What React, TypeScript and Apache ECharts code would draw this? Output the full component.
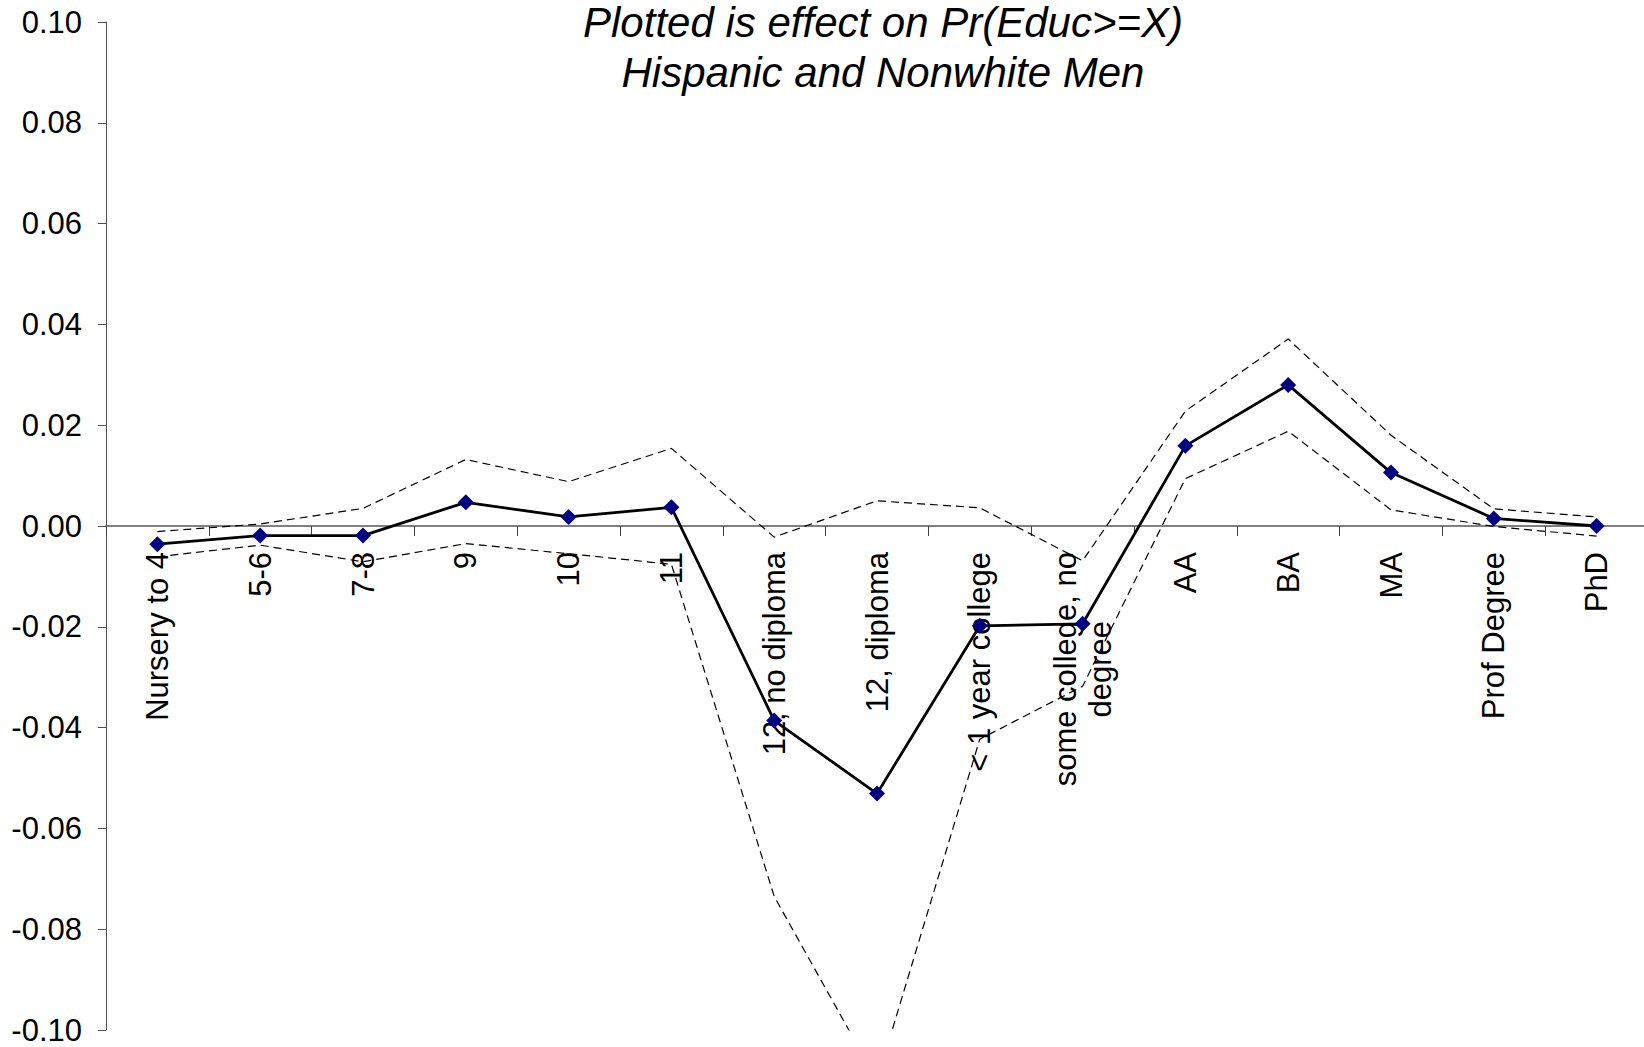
import React, { useEffect, useRef } from "react";
import * as echarts from "echarts";

const categories = [
  "Nursery to 4",
  "5-6",
  "7-8",
  "9",
  "10",
  "11",
  "12, no diploma",
  "12, diploma",
  "< 1 year college",
  "some college, no\ndegree",
  "AA",
  "BA",
  "MA",
  "Prof Degree",
  "PhD",
];

const effect = [-0.0036, -0.0019, -0.0019, 0.0047, 0.0018, 0.0037, -0.0386, -0.0531, -0.0198, -0.0194, 0.0159, 0.028, 0.0106, 0.0015, 0.0];
const upperBound = [-0.0011, 0.0004, 0.0035, 0.0132, 0.0088, 0.0154, -0.0022, 0.005, 0.0036, -0.0069, 0.0228, 0.0371, 0.018, 0.0034, 0.0018];
const lowerBound = [-0.0061, -0.0038, -0.0071, -0.0035, -0.0055, -0.0076, -0.0735, -0.11, -0.0423, -0.0318, 0.0094, 0.0188, 0.0032, -0.0001, -0.002];

const titleLines = ["Plotted is effect on Pr(Educ>=X)", "Hispanic and Nonwhite Men"];

const yMin = -0.1;
const yMax = 0.1;
const yStep = 0.02;

const FONT = "'Liberation Sans', Arial, sans-serif";

const W = 1644;
const H = 1047;
const GRID = { left: 106, right: -4, top: 22, bottom: 17 };

export default function App() {
  const ref = useRef<HTMLDivElement>(null);

  useEffect(() => {
    document.body.style.margin = "0";
    if (!ref.current) return;
    const chart = echarts.init(ref.current, null, { renderer: "svg" });
    const gridH = H - GRID.top - GRID.bottom;
    const zeroOffset = -(gridH * (0 - yMin)) / (yMax - yMin);
    chart.setOption({
      animation: false,
      backgroundColor: "#ffffff",
      graphic: [
        {
          type: "text",
          x: 883,
          y: 47,
          style: {
            text: titleLines.join("\n"),
            textAlign: "center",
            textVerticalAlign: "middle",
            font: `italic 42px ${FONT}`,
            lineHeight: 50,
            fill: "#000000",
          },
        },
      ],
      grid: { ...GRID, containLabel: false, outerBoundsMode: "none" },
      xAxis: {
        type: "category",
        data: categories,
        boundaryGap: true,
        position: "bottom",
        offset: zeroOffset,
        axisLine: { onZero: false, lineStyle: { color: "#808080", width: 2 } },
        axisTick: { show: true, inside: false, length: 10, lineStyle: { color: "#404040", width: 1 } },
        axisLabel: {
          interval: 0,
          rotate: 90,
          margin: 26,
          hideOverlap: false,
          color: "#000000",
          fontFamily: FONT,
          fontSize: 31,
          lineHeight: 35,
          formatter: (v: string) => v.split("\n").map((l) => `{c|${l}}`).join("\n"),
          rich: {
            c: { align: "center", fontFamily: FONT, fontSize: 31, lineHeight: 35, color: "#000000" },
          },
        },
        splitLine: { show: false },
      },
      yAxis: {
        type: "value",
        min: yMin,
        max: yMax,
        interval: yStep,
        axisLine: { show: true, lineStyle: { color: "#505050", width: 1 } },
        axisTick: { show: true, inside: false, length: 8, lineStyle: { color: "#505050" } },
        axisLabel: {
          margin: 24,
          color: "#000000",
          fontFamily: FONT,
          fontSize: 31,
          formatter: (v: number) => v.toFixed(2),
        },
        splitLine: { show: false },
      },
      series: [
        {
          type: "line",
          data: upperBound,
          symbol: "none",
          clip: true,
          lineStyle: { color: "#000000", width: 1.2, type: [8, 5] },
          z: 2,
        },
        {
          type: "line",
          data: lowerBound,
          symbol: "none",
          clip: true,
          lineStyle: { color: "#000000", width: 1.2, type: [8, 5] },
          z: 2,
        },
        {
          type: "line",
          data: effect,
          symbol: "diamond",
          symbolSize: 16,
          clip: true,
          lineStyle: { color: "#000000", width: 2.8 },
          itemStyle: { color: "#000080" },
          z: 3,
        },
      ],
    });
    return () => chart.dispose();
  }, []);

  return <div ref={ref} style={{ width: W, height: H }} />;
}
